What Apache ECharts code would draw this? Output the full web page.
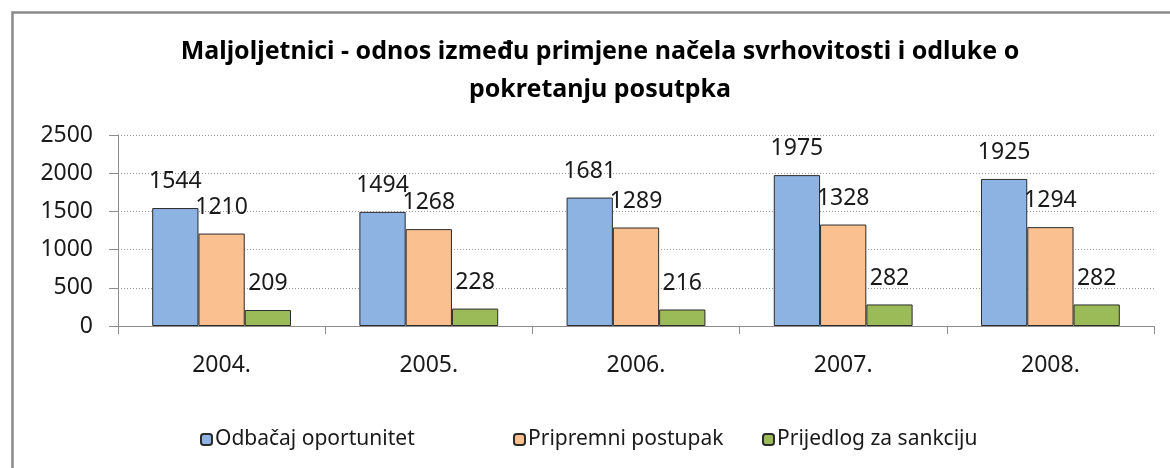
<!DOCTYPE html>
<html>
<head>
<meta charset="utf-8">
<script src="https://cdn.jsdelivr.net/npm/echarts@6/dist/echarts.min.js"></script>
<style>
html,body{margin:0;padding:0;background:#fff;}
#chart{width:1170px;height:468px;}
</style>
</head>
<body>
<div id="chart"></div>
<script>
const titleText = "Maljoljetnici - odnos između primjene načela svrhovitosti i odluke o\npokretanju posutpka";
const categories = ["2004.", "2005.", "2006.", "2007.", "2008."];
const seriesNames = ["Odbačaj oportunitet", "Pripremni postupak", "Prijedlog za sankciju"];
const odbacaj = [1544, 1494, 1681, 1975, 1925];
const pripremni = [1210, 1268, 1289, 1328, 1294];
const prijedlog = [209, 228, 216, 282, 282];
const yTicks = [0, 500, 1000, 1500, 2000, 2500];

const colors = ["#8DB3E2", "#FAC090", "#9BBB59"];
const valueSets = [odbacaj, pripremni, prijedlog];
const legendLefts = [195, 508, 757];

const chart = echarts.init(document.getElementById('chart'));
const labelFont = {fontFamily: 'Noto Sans', fontSize: 23, color: '#1a1a1a'};

chart.setOption({
  animation: false,
  backgroundColor: '#fff',
  graphic: [{
    type: 'rect', left: 10, top: 10, z: -1,
    shape: {width: 1200, height: 520},
    style: {fill: 'none', stroke: '#8a8a8a', lineWidth: 2.5}
  }],
  title: {
    text: titleText,
    left: 595, top: 28, textAlign: 'center',
    textStyle: {fontFamily: 'Noto Sans', fontWeight: 'bold', fontSize: 25, lineHeight: 38, color: '#000'}
  },
  legend: seriesNames.map((n, i) => ({
    data: [n],
    left: legendLefts[i], top: 424,
    itemWidth: 11, itemHeight: 11,
    textStyle: {fontFamily: 'Noto Sans', fontSize: 21, color: '#1a1a1a', padding: [0,0,0,-2]}
  })),
  grid: {left: 118, right: 16, top: 135, bottom: 142, containLabel: false},
  xAxis: {
    type: 'category', data: categories,
    axisLine: {lineStyle: {color: '#8c8c8c', width: 1}},
    axisTick: {show: true, length: 8, lineStyle: {color: '#8c8c8c'}},
    axisLabel: Object.assign({margin: 28}, labelFont)
  },
  yAxis: {
    type: 'value', min: yTicks[0], max: yTicks[yTicks.length-1], interval: 500,
    axisLine: {show: true, lineStyle: {color: '#8c8c8c', width: 1}},
    axisTick: {show: true, length: 9, lineStyle: {color: '#8c8c8c'}},
    splitLine: {lineStyle: {color: '#9a9a9a', type: [1, 2]}},
    axisLabel: Object.assign({margin: 25, formatter: v => String(v)}, labelFont)
  },
  series: valueSets.map((vals, i) => ({
    name: seriesNames[i], type: 'bar', data: vals,
    barGap: '0%', barCategoryGap: '33%',
    itemStyle: {color: colors[i], borderColor: '#2b2b2b', borderWidth: 1},
    label: Object.assign({show: true, position: 'top', distance: 15}, labelFont)
  }))
});
</script>
</body>
</html>
